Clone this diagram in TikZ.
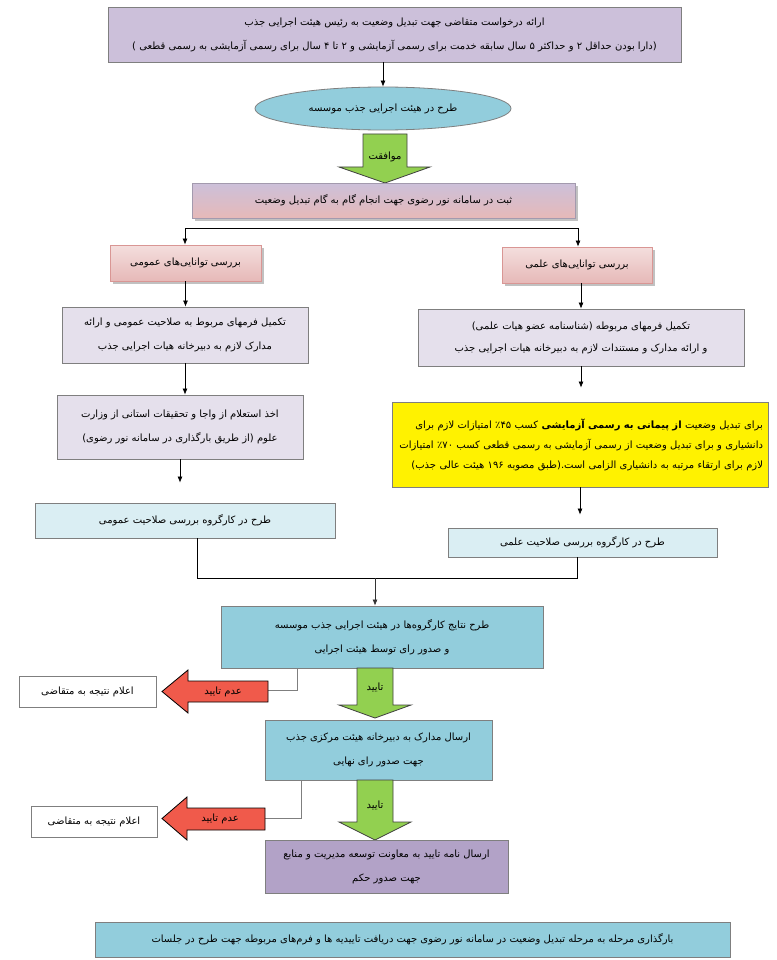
\documentclass[tikz,border=0pt]{standalone}
\usepackage{fontspec}
\newfontfamily\fa[Script=Arabic]{DejaVu Sans}
\TeXXeTstate=1
\usetikzlibrary{shapes.geometric,arrows.meta,shadows}
\newcommand\ptxt[1]{{\fa\beginR #1\endR}}
\definecolor{lav}{HTML}{CCC0DA}
\definecolor{lblue}{HTML}{92CDDC}
\definecolor{pale}{HTML}{DAEEF3}
\definecolor{lil}{HTML}{E5E0EC}
\definecolor{pur}{HTML}{B2A2C7}
\definecolor{pinkb}{HTML}{E6B9B8}
\definecolor{pinkt}{HTML}{F4DEDD}
\definecolor{pinkd}{HTML}{D99694}
\definecolor{grn}{HTML}{92D050}
\definecolor{rd}{HTML}{F05A4B}
\definecolor{bord}{HTML}{7F7F7F}
\begin{document}
\begin{tikzpicture}[x=1pt,y=-1pt,
  every node/.style={font=\fontsize{10}{24}\selectfont, inner sep=2pt},
  box/.style={draw=bord, line width=0.8pt, align=center, minimum width=#1},
  arr/.style={-{Latex[length=6pt,width=5pt]}, line width=0.7pt},
  gline/.style={draw=bord, line width=0.8pt},
  shd/.style={drop shadow={shadow xshift=2.5pt, shadow yshift=-2.5pt, fill=black!30, opacity=0.8}},
  blockg/.style={fill=grn, draw=black!75, line width=0.8pt},
  blockr/.style={fill=rd, draw=black, line width=0.8pt},
  lbl/.style={inner sep=0pt}
]
\useasboundingbox (0,0) rectangle (776,960);
\fill[white] (0,0) rectangle (776,960);

% top request box
\node[box=573pt, fill=lav, minimum height=55pt] (top) at (394.5,34.5)
  {\ptxt{ارائه درخواست متقاضی جهت تبدیل وضعیت به رئیس هیئت اجرایی جذب}\\
   \ptxt{(دارا بودن حداقل \beginL۲\endL{} و حداکثر \beginL۵\endL{} سال سابقه خدمت برای رسمی آزمایشی و \beginL۲\endL{} تا \beginL۴\endL{} سال برای رسمی آزمایشی به رسمی قطعی )}};

% ellipse
\node[ellipse, draw=bord, line width=0.8pt, fill=lblue, minimum width=256pt, minimum height=43pt, inner sep=0pt] (ell) at (383,108.5)
  {\ptxt{طرح در هیئت اجرایی جذب موسسه}};
\draw[arr] (ell.north |- top.south) -- (ell.north);

% green arrow 0
\draw[blockg] (363,134) -- (407,134) -- (407,167) -- (430,167) -- (385,183) -- (339,167) -- (363,167) -- cycle;
\node[lbl] (l0) at (385,157) {\ptxt{موافقت}};

% register box
\node[box=383pt, minimum height=35pt, top color=lav, bottom color=pinkb, draw=lav!80!black, shd] (reg) at (383.5,200.5)
  {\ptxt{ثبت در سامانه نور رضوی جهت انجام گام به گام تبدیل وضعیت}};

% split
\coordinate (sl) at (185,228);
\coordinate (sr) at (578,228);
\draw[line width=0.8pt] (sl) -- (sr);

\node[box=151pt, minimum height=36pt, top color=pinkt, bottom color=pinkb, draw=pinkd, shd] (gen) at (185.5,263)
  {\ptxt{بررسی توانایی‌های عمومی}};
\node[box=150pt, minimum height=36pt, top color=pinkt, bottom color=pinkb, draw=pinkd, shd] (sci) at (577,265)
  {\ptxt{بررسی توانایی‌های علمی}};
\draw[arr] (sl) -- (sl |- gen.north);
\draw[arr] (sr) -- (sr |- sci.north);

% left column
\node[box=246pt, minimum height=56pt, fill=lil] (genf) at (185,335)
  {\ptxt{تکمیل فرمهای مربوط به صلاحیت عمومی و ارائه}\\
   \ptxt{مدارک لازم به دبیرخانه هیات اجرایی جذب}};
\draw[arr] (gen.south) -- (gen.south |- genf.north);

\node[box=246pt, minimum height=64pt, fill=lil] (inq) at (180,427)
  {\ptxt{اخذ استعلام از واجا و تحقیقات استانی از وزارت}\\
   \ptxt{علوم (از طریق بارگذاری در سامانه نور رضوی)}};
\draw[arr] (genf.south) -- (genf.south |- inq.north);

\node[box=300pt, minimum height=35pt, fill=pale] (genw) at (185,520.5)
  {\ptxt{طرح در کارگروه بررسی صلاحیت عمومی}};
\draw[arr, shorten >=20pt] (inq.south) -- (inq.south |- genw.north);

% right column
\node[box=326pt, minimum height=57pt, fill=lil, font=\fontsize{10}{22}\selectfont] (scif) at (581,337.5)
  {\ptxt{تکمیل فرمهای مربوطه (شناسنامه عضو هیات علمی)}\\
   \ptxt{و ارائه مدارک و مستندات لازم به دبیرخانه هیات اجرایی جذب}};
\draw[arr] (scif.north |- sci.south) -- (scif.north);

\node[draw=bord, line width=0.8pt, fill=yellow, minimum width=376pt, minimum height=85pt, text width=366pt, align=right, font=\fontsize{10}{20}\selectfont] (yel) at (580,444.5)
  {\ptxt{برای تبدیل وضعیت \textbf{از پیمانی به رسمی آزمایشی} کسب \beginL٪۴۵\endL{}  امتیازات لازم برای}\\
   \ptxt{دانشیاری و برای تبدیل وضعیت از رسمی آزمایشی به رسمی قطعی کسب \beginL٪۷۰\endL{} امتیازات}\\
   \ptxt{لازم برای ارتقاء مرتبه به دانشیاری الزامی است.(طبق مصوبه \beginL۱۹۶\endL{} هیئت عالی جذب)}};
\draw[arr, shorten >=14pt] (scif.south) -- (scif.south |- yel.north);

\node[box=269pt, minimum height=29pt, fill=pale] (sciw) at (582.5,542.5)
  {\ptxt{طرح در کارگروه بررسی صلاحیت علمی}};
\draw[arr, shorten >=13pt] (yel.south) -- (yel.south |- sciw.north);

% merge
\coordinate (ml) at (197,578);
\coordinate (mr) at (577,578);
\coordinate (mm) at (375,578);
\draw[line width=0.8pt] (ml |- genw.south) -- (ml) -- (mr) -- (mr |- sciw.south);

\node[box=322pt, minimum height=62pt, fill=lblue] (res) at (382,637)
  {\ptxt{طرح نتایج کارگروه‌ها در هیئت اجرایی جذب موسسه}\\
   \ptxt{و صدور رای توسط هیئت اجرایی}};
\draw[arr, black!80] (mm) -- (mm |- res.north);

% reject 1
\node[box=137pt, minimum height=31pt, fill=white] (n1) at (87.5,691.5)
  {\ptxt{اعلام نتیجه به متقاضی}};
\coordinate (r1) at (297,690);
\coordinate (t1) at (268,690);
\draw[gline] (r1 |- res.south) -- (r1) -- (t1);
\draw[blockr] (268,681) -- (188,681) -- (188,670) -- (162,691.5) -- (188,713) -- (188,702) -- (268,702) -- cycle;
\node[lbl] (lr1) at (223,691.5) {\ptxt{عدم تایید}};

% green arrow 1
\draw[blockg] (357,668) -- (393,668) -- (393,705) -- (411,705) -- (375,718) -- (339,705) -- (357,705) -- cycle;
\node[lbl] (l1) at (375,687) {\ptxt{تایید}};

\node[box=227pt, minimum height=60pt, fill=lblue] (snd) at (378.5,750)
  {\ptxt{ارسال مدارک به دبیرخانه هیئت مرکزی جذب}\\
   \ptxt{جهت صدور رای نهایی}};

% reject 2
\node[box=126pt, minimum height=31pt, fill=white] (n2) at (94,821.5)
  {\ptxt{اعلام نتیجه به متقاضی}};
\coordinate (r2) at (301,818);
\coordinate (t2) at (265,818);
\draw[gline] (r2 |- snd.south) -- (r2) -- (t2);
\draw[blockr] (265,808) -- (187,808) -- (187,797) -- (162,818.5) -- (187,840) -- (187,830) -- (265,830) -- cycle;
\node[lbl] (lr2) at (220,819) {\ptxt{عدم تایید}};

% green arrow 2
\draw[blockg] (357,780) -- (393,780) -- (393,822) -- (411,822) -- (375,840) -- (339,822) -- (357,822) -- cycle;
\node[lbl] (l2) at (375,805) {\ptxt{تایید}};

\node[box=243pt, minimum height=53pt, fill=pur] (let) at (386.5,866.5)
  {\ptxt{ارسال نامه تایید به معاونت توسعه مدیریت و منابع}\\
   \ptxt{جهت صدور حکم}};

% bottom
\node[box=635pt, minimum height=35pt, fill=lblue] (bot) at (412.5,939.5)
  {\ptxt{بارگذاری مرحله به مرحله تبدیل وضعیت در سامانه نور رضوی جهت دریافت تاییدیه ها و فرم‌های مربوطه جهت طرح در جلسات}};
\end{tikzpicture}
\end{document}
